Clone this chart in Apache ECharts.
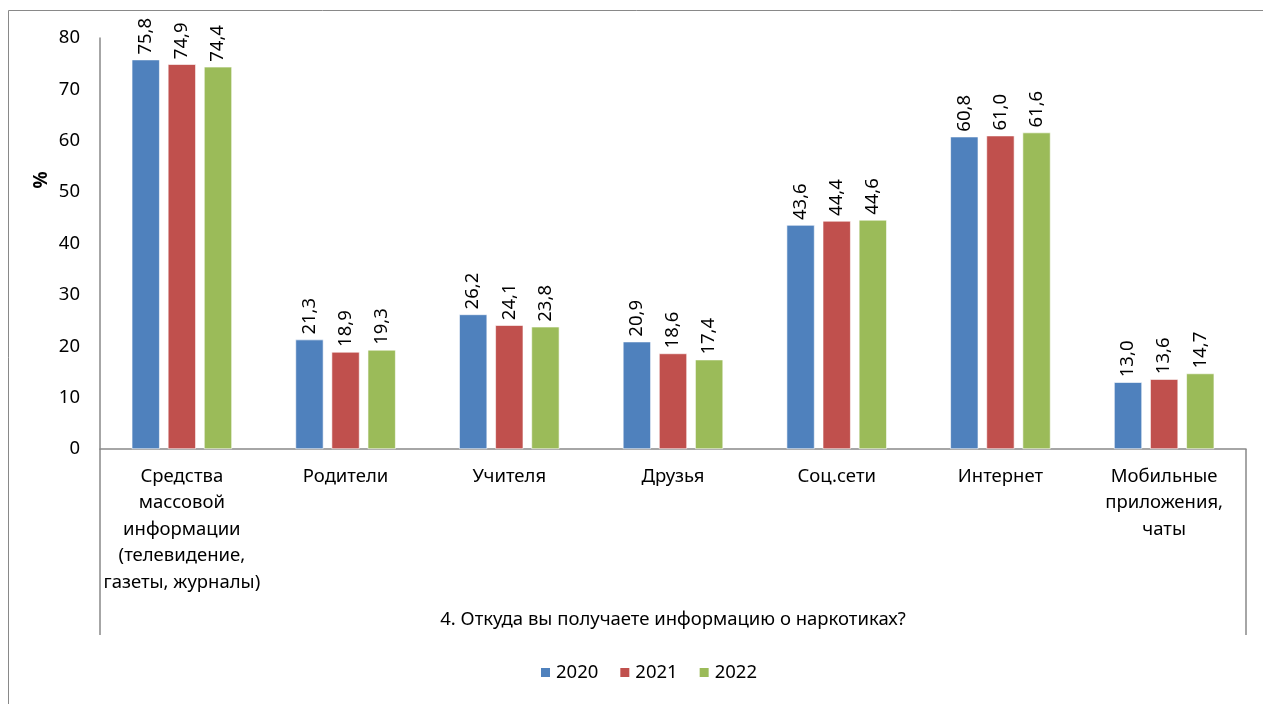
<!DOCTYPE html>
<html><head><meta charset="utf-8">
<script src="https://cdn.jsdelivr.net/npm/echarts@6/dist/echarts.min.js"></script>
<style>html,body{margin:0;padding:0;background:#fff}#c{width:1263px;height:704px}</style>
</head><body><div id="c"></div>
<script>
var categories = ["Средства\nмассовой\nинформации\n(телевидение,\nгазеты, журналы)", "Родители", "Учителя", "Друзья", "Соц.сети", "Интернет", "Мобильные\nприложения,\nчаты"];
var groupLabel = "4. Откуда вы получаете информацию о наркотиках?";
var years = ["2020", "2021", "2022"];
var s2020 = [75.8, 21.3, 26.2, 20.9, 43.6, 60.8, 13.0];
var s2021 = [74.9, 18.9, 24.1, 18.6, 44.4, 61.0, 13.6];
var s2022 = [74.4, 19.3, 23.8, 17.4, 44.6, 61.6, 14.7];
var yTicks = [0, 10, 20, 30, 40, 50, 60, 70, 80];
var colors = ["#4F81BD", "#C0504D", "#9BBB59"];
var FONT = "'Noto Sans', 'DejaVu Sans', sans-serif";
var FS = 18.5;

var chart = echarts.init(document.getElementById('c'));
function mk(name, data, color) {
  return {
    name: name, type: 'bar', data: data,
    barWidth: 28, barGap: '29%',
    itemStyle: {color: color, borderColor: '#ffffff', borderWidth: 0.6},
    label: {show: true, position: 'top', rotate: 90, align: 'left', verticalAlign: 'middle', distance: 5,
      fontSize: FS, fontFamily: FONT, color: '#000',
      formatter: function(p){ return p.value.toFixed(1).replace('.', ','); }}
  };
}
chart.setOption({
  animation: false,
  color: colors,
  grid: {left: 100, right: 17, top: 38, bottom: 255, containLabel: false},
  xAxis: {
    type: 'category', data: categories,
    axisLine: {lineStyle: {color: '#898989', width: 1.5}},
    axisTick: {show: false},
    axisLabel: {fontSize: FS, fontFamily: FONT, color: '#000', lineHeight: 26.5, margin: 14, interval: 0}
  },
  yAxis: {
    type: 'value', min: 0, max: 80, interval: 10,
    axisLine: {show: true, lineStyle: {color: '#898989', width: 1.5}},
    axisTick: {show: false},
    splitLine: {show: false},
    axisLabel: {fontSize: FS, fontFamily: FONT, color: '#000', margin: 20,
      formatter: function(v){ return yTicks.indexOf(v) >= 0 ? String(v) : ''; }}
  },
  legend: {
    data: years, bottom: 17, left: 534, itemWidth: 11, itemHeight: 11, itemGap: 20,
    icon: 'rect', textStyle: {fontSize: FS, fontFamily: FONT, color: '#000'}
  },
  series: [mk(years[0], s2020, colors[0]), mk(years[1], s2021, colors[1]), mk(years[2], s2022, colors[2])],
  graphic: [
    {type: 'rect', shape: {x: 8.5, y: 10.5, width: 1300, height: 800}, style: {fill: 'none', stroke: '#898989', lineWidth: 1}, silent: true},
    {type: 'line', shape: {x1: 100, y1: 449, x2: 100, y2: 635}, style: {stroke: '#898989', lineWidth: 1.5}},
    {type: 'line', shape: {x1: 1246, y1: 449, x2: 1246, y2: 635}, style: {stroke: '#898989', lineWidth: 1.5}},
    {type: 'text', x: 673, y: 620, style: {text: groupLabel, fontSize: FS, fontFamily: FONT, fill: '#000', align: 'center', verticalAlign: 'middle'}},
    {type: 'text', x: 42, y: 180, rotation: Math.PI / 2, style: {text: '%', fontSize: 19, fontWeight: 'bold', fontFamily: FONT, fill: '#000', align: 'center', verticalAlign: 'middle'}}
  ]
});
</script></body></html>
